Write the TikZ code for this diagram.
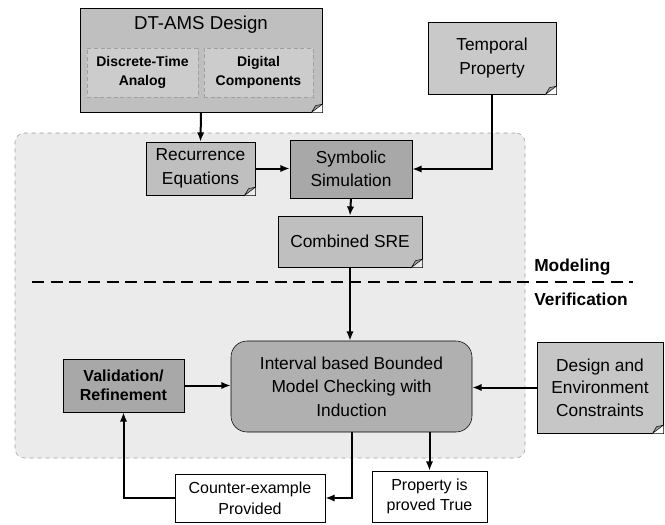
\documentclass[tikz,border=0pt]{standalone}
\usepackage{fontspec}
\setmainfont{Liberation Sans}
\usetikzlibrary{arrows.meta, positioning, calc}

% folded corner at the south east of a node
\newcommand{\dogear}[2][white]{%
  \fill[#1] ($(#2.south east)+(-8pt,0)$) -- (#2.south east) -- ($(#2.south east)+(0,6pt)$) -- cycle;
  \filldraw[fill=gray!75, draw=black, thin] ($(#2.south east)+(-8pt,0)$) -- ($(#2.south east)+(0,6pt)$) -- ($(#2.south east)+(-5pt,5pt)$) -- cycle;}

\begin{document}
\begin{tikzpicture}[x=0.75pt, y=-0.75pt, >={Latex[length=7pt,width=5.5pt]},
    box/.style={draw, thin, rectangle, align=center, inner sep=1pt, font=\fontsize{13}{17.5}\selectfont},
    inner/.style={draw=gray!75, densely dashed, thin, fill=gray!40, rectangle, align=center, inner sep=1pt, font=\fontsize{10.5}{14}\selectfont\bfseries},
    result/.style={draw, thin, rectangle, fill=white, align=center, inner sep=1pt, font=\fontsize{12}{15.5}\selectfont},
    flow/.style={->, line width=1.5pt}]

    \useasboundingbox (0,0) rectangle (665,525);

    % Modeling / verification region
    \node[draw=gray!75, dashed, thin, fill=gray!16, rounded corners=7pt, minimum width=382.5pt, minimum height=243.75pt] (region) at (270,295.5) {};

    % DT-AMS design with its two parts
    \node[box, fill=gray!50, minimum width=181.5pt, minimum height=78pt,
          label={[anchor=north, font=\fontsize{14}{16}\selectfont, yshift=-3pt]north:DT-AMS Design}] (dtams) at (201,60) {};
    \dogear{dtams}
    \node[inner, minimum width=83.25pt, minimum height=36.75pt] (analog) at (142.5,72.5) {Discrete-Time\\Analog};
    \node[inner, minimum width=81.75pt, minimum height=36.75pt] (digital) at (258.5,72.5) {Digital\\Components};

    % Temporal property
    \node[box, fill=gray!42, minimum width=96pt, minimum height=54pt] (temporal) at (492,58) {Temporal\\Property};
    \dogear{temporal}

    % Modeling part
    \node[box, fill=gray!50, minimum width=81.75pt, minimum height=39.75pt] (recur) at (200.5,168.5) {Recurrence\\Equations};
    \dogear[gray!16]{recur}
    \node[box, fill=gray!68, minimum width=91.5pt, minimum height=43.5pt] (symsim) at (351,169) {Symbolic\\Simulation};
    \node[box, fill=gray!50, minimum width=108pt, minimum height=38.25pt] (sre) at (350,241.5) {Combined SRE};
    \dogear[gray!16]{sre}

    % Modeling / verification divider
    \coordinate (divl) at (32,282);
    \coordinate (divr) at (633,282);
    \draw[line width=1.8pt, dash pattern=on 9pt off 5pt] (divl) -- (divr);
    \node[anchor=west, inner sep=0pt, font=\fontsize{13}{15}\selectfont\bfseries] (modeling) at (534,267) {Modeling};
    \node[anchor=west, inner sep=0pt, font=\fontsize{13}{15}\selectfont\bfseries] (verif) at (534,299) {Verification};

    % Verification part
    \node[box, fill=gray!62, rounded corners=12pt, minimum width=180.75pt, minimum height=68.25pt] (bmc) at (351.5,386.5) {Interval based Bounded\\Model Checking with\\Induction};
    \node[box, fill=gray!68, minimum width=90.75pt, minimum height=39.75pt, font=\fontsize{12}{14.25}\selectfont\bfseries] (valid) at (123.5,385.5) {Validation/\\Refinement};
    \node[box, fill=gray!45, minimum width=94.5pt, minimum height=68.25pt, font=\fontsize{13}{17}\selectfont] (constr) at (600,387.5) {Design and\\Environment\\Constraints};
    \dogear{constr}

    % Results
    \node[result, minimum width=112.5pt, minimum height=36pt] (counter) at (250,498) {Counter-example\\Provided};
    \node[result, minimum width=86.25pt, minimum height=38.25pt] (proved) at (429.5,496.5) {Property is\\proved True};

    % Connectors
    \draw[flow] (dtams.south) -- (recur.north);
    \draw[flow] (recur.east) -- (recur.east -| symsim.west);
    \draw[flow] (temporal.south) |- (symsim.east);
    \draw[flow] (symsim.south) -- (sre.north);
    \draw[flow] (sre.south) -- (sre.south |- bmc.north);
    \draw[flow] (valid.east) -- (valid.east -| bmc.west);
    \draw[flow] (constr.west) -- (constr.west -| bmc.east);
    \draw[flow] (bmc.south) |- (counter.east);
    \draw[flow] (bmc.south -| proved.north) -- (proved.north);
    \draw[flow] (counter.west) -| (valid.south);
\end{tikzpicture}
\end{document}
